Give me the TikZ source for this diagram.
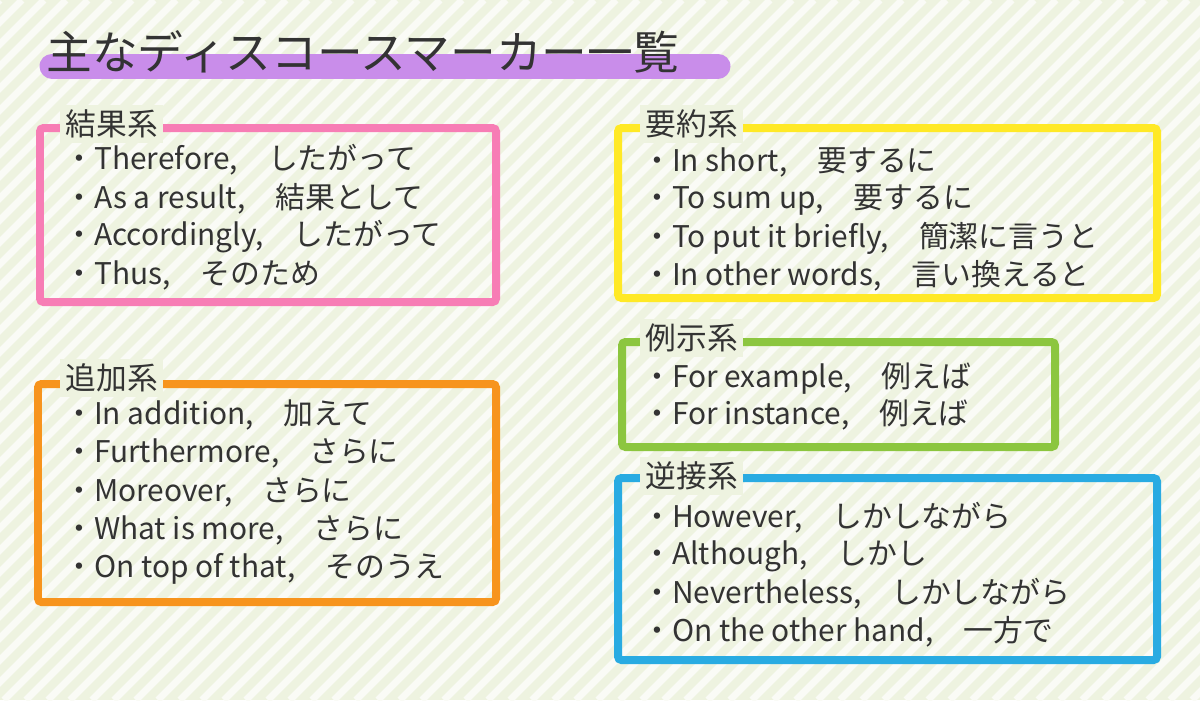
\documentclass[tikz,border=0pt]{standalone}
\usepackage{fontspec}
\setmainfont{Noto Sans CJK JP}
\usepackage{tikz}
\usetikzlibrary{positioning}
\definecolor{bgcol}{HTML}{EEF3E0}
\definecolor{pinkcol}{HTML}{F77DB5}
\definecolor{orangecol}{HTML}{F7941D}
\definecolor{yellowcol}{HTML}{FFE926}
\definecolor{greencol}{HTML}{8CC63F}
\definecolor{bluecol}{HTML}{29ABE2}
\definecolor{purplecol}{HTML}{C98DEA}
\definecolor{textcol}{HTML}{333333}

\begin{document}
\begin{tikzpicture}[x=0.02cm, y=-0.02cm,
			frame/.style={
				line width=0.16cm,
				rounded corners=2pt
			},
			label/.style={
				fill=bgcol,
				inner sep=3pt,
				anchor=west,
				text=textcol,
				font=\fontsize{17.5pt}{19pt}\selectfont
			},
			item/.style={
				inner sep=0pt,
				anchor=west,
				text=textcol,
				font=\fontsize{17pt}{19pt}\selectfont
			}
			]
			% Fondo con rayas
			\useasboundingbox (0,0) rectangle (1200,700);
			\fill[bgcol] (0,0) rectangle (1200,700);
			\begin{scope}
				\clip (0,0) rectangle (1200,700);
				\foreach \s in {-700,-678,...,1200}
					\draw[white!70!bgcol, line width=0.14cm] (\s,700) -- (\s+700,0);
			\end{scope}
			
			% Título
			\draw[purplecol, line width=0.5cm, line cap=round] (52,66) -- (718,66);
			\node[item, font=\fontsize{26pt}{28pt}\selectfont] (title) at (46,52) {主なディスコースマーカー一覧};
			
			% 結果系
			\draw[frame, pinkcol] (40,128) rectangle (496,302);
			\node[label] (kekka) at (60,124) {結果系};
			\foreach \t [count=\i] in {{・Therefore,　したがって}, {・As a result,　結果として}, {・Accordingly,　したがって}, {・Thus,　そのため}}
				\node[item] (kekka\i) at (64,160+38.5*\i-38.5) {\t};
			
			% 追加系
			\draw[frame, orangecol] (38,384) rectangle (496,602);
			\node[label] (tsuika) at (60,378) {追加系};
			\foreach \t [count=\i] in {{・In addition,　加えて}, {・Furthermore,　さらに}, {・Moreover,　さらに}, {・What is more,　さらに}, {・On top of that,　そのうえ}}
				\node[item] (tsuika\i) at (64,415+38.5*\i-38.5) {\t};
			
			% 要約系
			\draw[frame, yellowcol] (618,128) rectangle (1157,298);
			\node[label] (youyaku) at (640,124) {要約系};
			\foreach \t [count=\i] in {{・In short,　要するに}, {・To sum up,　要するに}, {・To put it briefly,　簡潔に言うと}, {・In other words,　言い換えると}}
				\node[item] (youyaku\i) at (642,162+38*\i-38) {\t};
			
			% 例示系
			\draw[frame, greencol] (622,342) rectangle (1055,447);
			\node[label] (reiji) at (640,338) {例示系};
			\foreach \t [count=\i] in {{・For example,　例えば}, {・For instance,　例えば}}
				\node[item] (reiji\i) at (642,378+37*\i-37) {\t};
			
			% 逆接系
			\draw[frame, bluecol] (618,478) rectangle (1157,660);
			\node[label] (gyakusetsu) at (640,476) {逆接系};
			\foreach \t [count=\i] in {{・However,　しかしながら}, {・Although,　しかし}, {・Nevertheless,　しかしながら}, {・On the other hand,　一方で}}
				\node[item] (gyakusetsu\i) at (642,518+38*\i-38) {\t};
			
		\end{tikzpicture}
\end{document}
